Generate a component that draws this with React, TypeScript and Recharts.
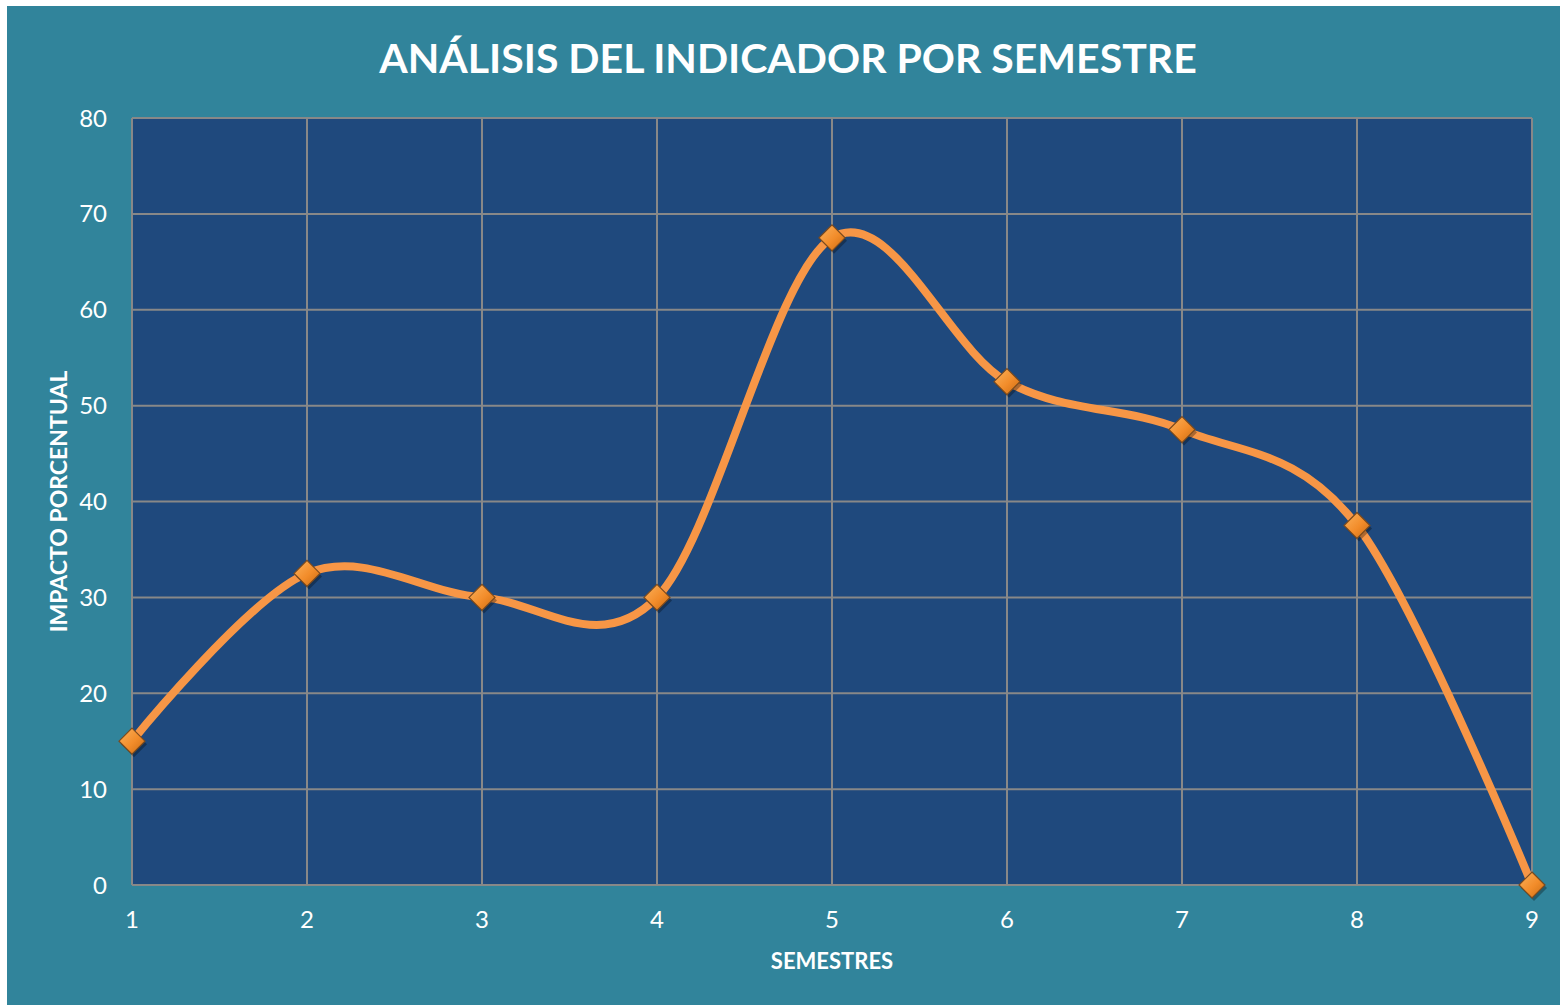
import React from 'react';
import { LineChart, Line, XAxis, YAxis, CartesianGrid } from 'recharts';

const semestres = [1, 2, 3, 4, 5, 6, 7, 8, 9];
const impacto = [15, 32.5, 30, 30, 67.5, 52.5, 47.5, 37.5, 0];
const yTicks = [0, 10, 20, 30, 40, 50, 60, 70, 80];

const data = semestres.map((s, i) => ({ semestre: s, impacto: impacto[i] }));

const FONT = 'Lato, "Open Sans", sans-serif';

// Excel-style smoothed line (cardinal spline, tension 0)
const smoothCurve = (context: any) => {
  const k = 1 / 6;
  let x0: number, x1: number, x2: number, y0: number, y1: number, y2: number;
  let pt = 0;
  let line: number = NaN;
  const seg = (x: number, y: number) => {
    context.bezierCurveTo(
      x1 + k * (x2 - x0),
      y1 + k * (y2 - y0),
      x2 + k * (x1 - x),
      y2 + k * (y1 - y),
      x2,
      y2
    );
  };
  return {
    areaStart() { line = 0; },
    areaEnd() { line = NaN; },
    lineStart() { x0 = x1 = x2 = y0 = y1 = y2 = NaN; pt = 0; },
    lineEnd() {
      if (pt === 2) context.lineTo(x2, y2);
      else if (pt === 3) seg(x1, y1);
      if (line || (line !== 0 && pt === 1)) context.closePath();
      line = 1 - line;
    },
    point(x: number, y: number) {
      x = +x; y = +y;
      if (pt === 0) { pt = 1; line ? context.lineTo(x, y) : context.moveTo(x, y); }
      else if (pt === 1) { pt = 2; x1 = x; y1 = y; }
      else { pt = 3; seg(x, y); }
      x0 = x1; x1 = x2; x2 = x;
      y0 = y1; y1 = y2; y2 = y;
    },
  };
};

const Diamond = (props: any) => {
  const { cx, cy, index } = props;
  if (cx == null || cy == null) return <g key={`d-${index}`} />;
  const r = 13;
  const id = `dg-${index}`;
  const pts = `${cx},${cy - r} ${cx + r},${cy} ${cx},${cy + r} ${cx - r},${cy}`;
  const sh = `${cx + 2},${cy - r + 3} ${cx + r + 2},${cy + 3} ${cx + 2},${cy + r + 3} ${cx - r + 2},${cy + 3}`;
  return (
    <g key={`d-${index}`}>
      <defs>
        <linearGradient id={id} x1="0" y1="0" x2="1" y2="1">
          <stop offset="0%" stopColor="#FBB25C" />
          <stop offset="55%" stopColor="#F28C2A" />
          <stop offset="100%" stopColor="#C86A12" />
        </linearGradient>
      </defs>
      <polygon points={sh} fill="#000" opacity={0.3} />
      <polygon points={pts} fill={`url(#${id})`} stroke="#7A4A1E" strokeWidth={1.2} />
    </g>
  );
};

const YLabel = (props: any) => {
  const { viewBox } = props;
  const x = viewBox.x + 58;
  const y = viewBox.y + viewBox.height / 2;
  return (
    <text
      x={x}
      y={y}
      transform={`rotate(-90, ${x}, ${y})`}
      textAnchor="middle"
      dominantBaseline="central"
      fill="#FFFFFF"
      fontFamily={FONT}
      fontWeight="bold"
      fontSize={23}
    >
      IMPACTO PORCENTUAL
    </text>
  );
};

const XLabel = (props: any) => {
  const { viewBox } = props;
  const x = viewBox.x + viewBox.width / 2;
  const y = viewBox.y + 75;
  return (
    <text
      x={x}
      y={y}
      textAnchor="middle"
      dominantBaseline="central"
      fill="#FFFFFF"
      fontFamily={FONT}
      fontWeight="bold"
      fontSize={22}
    >
      SEMESTRES
    </text>
  );
};

export default function App() {
  return (
    <div style={{ position: 'absolute', left: 0, top: 0, width: 1560, height: 1005, background: '#FFFFFF' }}>
      <div style={{ position: 'absolute', left: 7, top: 6, width: 1553, height: 999, background: '#31849B' }} />
      <svg width={1560} height={100} style={{ position: 'absolute', left: 0, top: 0 }}>
        <text
          x={788}
          y={73}
          textAnchor="middle"
          fill="#FFFFFF"
          fontFamily={FONT}
          fontWeight="bold"
          fontSize={41}
        >
          ANÁLISIS DEL INDICADOR POR SEMESTRE
        </text>
      </svg>
      <div style={{ position: 'absolute', left: 0, top: 0 }}>
        <LineChart width={1560} height={1005} data={data} margin={{ top: 118, right: 28, left: 0, bottom: 0 }}>
          <CartesianGrid fill="#1F497D" stroke="#888888" strokeWidth={2} />
          <XAxis
            dataKey="semestre"
            type="number"
            domain={[1, 9]}
            ticks={semestres}
            height={120}
            axisLine={{ stroke: '#888888', strokeWidth: 2 }}
            tickLine={false}
            tickSize={0}
            tickMargin={26}
            tick={{ fill: '#FFFFFF', fontSize: 24, fontFamily: FONT }}
            label={<XLabel />}
          />
          <YAxis
            type="number"
            domain={[0, 80]}
            ticks={yTicks}
            width={132}
            axisLine={{ stroke: '#888888', strokeWidth: 2 }}
            tickLine={false}
            tickSize={0}
            tickMargin={25}
            tick={{ fill: '#FFFFFF', fontSize: 24, fontFamily: FONT }}
            label={<YLabel />}
          />
          <Line
            dataKey="impacto"
            type={smoothCurve as any}
            stroke="#F79646"
            strokeWidth={8}
            dot={(p: any) => <Diamond key={`dot-${p.index}`} {...p} />}
            activeDot={false}
            isAnimationActive={false}
          />
        </LineChart>
      </div>
    </div>
  );
}
